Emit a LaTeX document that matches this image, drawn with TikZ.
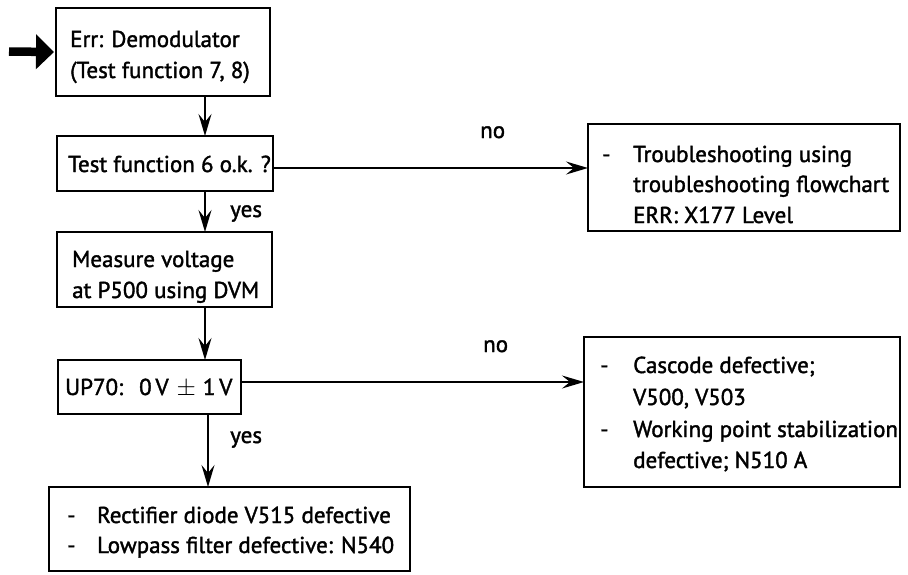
\documentclass[tikz,border=0pt]{standalone}
\usepackage{fontspec}
\setmainfont[FakeBold=1.6]{PT Sans}
\usetikzlibrary{arrows.meta}
\begin{document}
\begin{tikzpicture}[x=1pt,y=-1pt,
  box/.style={draw, line width=1.8pt, inner sep=0pt, outer sep=0pt, anchor=north west},
  txt/.style={anchor=base west, inner sep=0pt, font=\fontsize{23}{27}\selectfont},
  arr/.style={line width=1.8pt, -{Stealth[length=22pt,width=13pt,inset=8pt]}}]
\useasboundingbox (0,0) rectangle (908,574);
% boxes
\node[box, minimum width=214pt, minimum height=88pt] (b1) at (56,8) {};
\node[box, minimum width=216pt, minimum height=55pt] (b2) at (57,136) {};
\node[box, minimum width=215pt, minimum height=75pt] (b3) at (57,232) {};
\node[box, minimum width=183pt, minimum height=54pt] (b4) at (58,360) {};
\node[box, minimum width=361pt, minimum height=84pt] (b5) at (49,487) {};
\node[box, minimum width=312pt, minimum height=107pt] (r1) at (588,124) {};
\node[box, minimum width=316pt, minimum height=150pt] (r2) at (584,337) {};
% texts
\node[txt] (t1a) at (70,47) {Err: Demodulator};
\node[txt] (t1b) at (70,78) {(Test function 7, 8)};
\node[txt] (t2) at (68,172) {Test function 6 o.k. ?};
\node[txt] (t3a) at (72,267) {Measure voltage};
\node[txt] (t3b) at (72,298) {at P500 using DVM};
\node[txt] (t4) at (65,395) {UP70:\hspace{16pt}0\,V\hspace{8pt}$\pm$\hspace{7pt}1\,V};
\node[txt] (t5d1) at (67,523) {-};
\node[txt] (t5a) at (97,523) {Rectifier diode V515 defective};
\node[txt] (t5d2) at (67,553) {-};
\node[txt] (t5b) at (97,553) {Lowpass filter defective: N540};
\node[txt] (r1d) at (602,162) {-};
\node[txt] (r1a) at (633,162) {Troubleshooting using};
\node[txt] (r1b) at (633,192) {troubleshooting flowchart};
\node[txt] (r1c) at (633,223) {ERR: X177 Level};
\node[txt] (r2d1) at (600,373) {-};
\node[txt] (r2a) at (633,373) {Cascode defective;};
\node[txt] (r2b) at (633,405) {V500, V503};
\node[txt] (r2d2) at (600,437) {-};
\node[txt] (r2c) at (633,437) {Working point stabilization};
\node[txt] (r2e) at (633,468) {defective; N510 A};
% labels
\node[txt] (no1) at (480,138) {no};
\node[txt] (no2) at (483,352) {no};
\node[txt] (yes1) at (230,217) {yes};
\node[txt] (yes2) at (230,443) {yes};
% connector x/y guides
\coordinate (xa) at (205,0);
\coordinate (xb) at (208,0);
\coordinate (ya) at (0,168);
\coordinate (yb) at (0,382);
\coordinate (start) at (9,51.5);
% connectors
\draw[line width=8.5pt, -{Triangle[length=18pt,width=34pt]}] (start) -- ([xshift=-2pt]b1.west);
\draw[arr] (b1.south -| xa) -- (b2.north -| xa);
\draw[arr] (b2.south -| xa) -- (b3.north -| xa);
\draw[arr] (b3.south -| xa) -- (b4.north -| xa);
\draw[arr] (b4.south -| xb) -- (b5.north -| xb);
\draw[arr] (b2.east |- ya) -- (r1.west |- ya);
\draw[arr] (b4.east |- yb) -- (r2.west |- yb);
\end{tikzpicture}
\end{document}
